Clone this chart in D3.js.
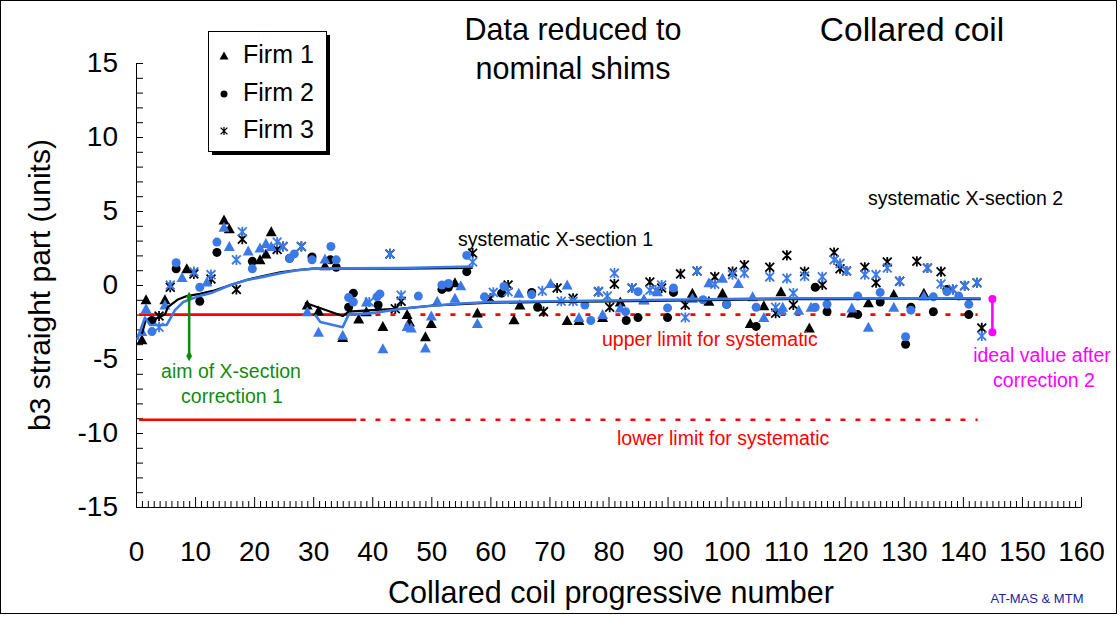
<!DOCTYPE html>
<html>
<head>
<meta charset="utf-8">
<script src="https://cdn.jsdelivr.net/npm/d3@7"></script>
<style>
  body { margin: 0; background: #fff; }
  svg { display: block; font-family: "Liberation Sans", Arial, sans-serif; }
</style>
</head>
<body>
<svg id="chart" width="1120" height="617"></svg>
<script>
// ---- data (coil number, b3 in units) ----
const xTicks = d3.range(0, 161, 10);
const yTicks = [-15, -10, -5, 0, 5, 10, 15];

const f1Black = [[1,-3.7],[1.7,-1.0],[4.9,-1.0],[8.6,1.1],[14.9,4.4],[15.8,3.8],[21,1.7],[22,2.1],[22.9,3.6],
  [29,-1.35],[30.9,-1.75],[32,1.3],[35,-3.55],[37.7,-2.3],[39,-1.8],[41.8,-2.8],[45.9,-2.0],[46.3,-2.5],
  [49,-3.5],[50,-2.6],[54,0.15],[57.8,-1.9],[64,-2.35],[65,-1.35],[73,-2.4],[75,-2.4],[79,-2.2],[82,-1.15],
  [86,-1.0],[94.2,-0.55],[97,-1.1],[99.3,-0.55],[104,-2.6],[106.3,-1.4],[109.2,-0.45],[114,-2.9],
  [121.2,-1.9],[124,-1.2],[128.3,-0.65],[133.4,-0.55]];
const f1Blue = [[1,-3.15],[1.7,-1.6],[4.9,-1.35],[7.8,0.5],[12,0.2],[14.9,3.9],[15.8,2.6],[19,2.3],[21,2.5],
  [22,2.8],[22.9,2.6],[29,-1.8],[30.9,-3.2],[32,1.75],[35,-3.4],[39,-1.15],[41.8,-4.3],[45.9,-2.8],[46.6,-2.9],
  [49,-4.25],[50,-2.1],[51,-1.1],[54,-0.9],[55,-0.05],[57.8,-2.6],[64.8,-0.55],[70.2,0.1],[73,0],[75,-2.2],
  [79,-2.0],[82,-1.55],[86,-1.0],[88.3,-0.45],[94.2,-0.9],[97,0.15],[99.3,0.45],[102,0.1],[104.4,-0.8],
  [106.3,-2.2],[109.3,-1.7],[109.5,-1.5],[112.2,-1.7],[114.3,-1.5],[121.2,-1.55],[124,-2.85],[128.3,-1.5],
  [133.4,-0.75]];

const f2Black = [[2.7,-2.4],[6.8,1.1],[10.8,-1.1],[13.7,2.2],[19.7,1.6],[26,1.8],[29.8,1.9],[32.9,1.7],
  [33.9,1.2],[36,-1.5],[36.8,-0.55],[41,-1.35],[51.8,-0.3],[52.9,-0.15],[56,0.9],[61.9,-0.55],[67,-0.5],
  [68,-1.5],[83,-2.4],[85,-2.2],[90,-2.2],[91,-0.5],[100,-1.3],[105,-2.8],[115,-0.15],[117,-1.8],
  [122.2,-2.0],[126,-1.15],[130.3,-4.0],[131.2,-1.5],[135,-1.8],[137.3,-0.3],[141,-2.0]];
const f2Blue = [[2.7,-3.15],[6.8,1.5],[10.8,-0.15],[13.7,2.9],[19.7,1.1],[26,1.8],[26.8,2.1],[29.8,1.7],
  [33,2.6],[33.9,1.7],[36,-0.85],[36.8,-1.15],[40.8,-0.8],[41.3,-0.6],[47.8,-0.75],[51.8,0],[52.9,0.1],
  [56,2.0],[59,-0.8],[62.3,-0.1],[67,-0.65],[76,-1.35],[77,-2.4],[82.9,-1.8],[85,-0.45],[90,-1.55],
  [91,-0.2],[96,-1.0],[100,-1.3],[105,-1.5],[115,-1.5],[117,-1.3],[122.2,-0.75],[126,-0.5],[130.3,-3.5],
  [131.2,-1.7],[135,-0.8],[137.3,-0.45],[139.3,-0.75],[141,-1.3]];

const f3Black = [[3.9,-2.1],[5.8,-0.15],[9.8,0.75],[12.7,0.4],[17,-0.3],[18,3.1],[23.9,2.4],[24.9,2.6],
  [28,2.6],[43,2.1],[57,2.15],[43.9,-1.6],[44.9,-1.1],[60,-0.9],[63,0],[69,-1.8],[71.3,-0.2],[74,-0.9],
  [78.3,-0.45],[80.2,-1.5],[81,0.07],[84,-0.2],[87,0.2],[89,-0.2],[92.2,0.75],[93,-1.35],[95,0.95],
  [98,0.55],[101,0.9],[103,1.35],[107.3,1.2],[108.3,-1.9],[110.2,2.0],[111.3,-1.35],[113.2,0.9],[116.2,0],
  [118.2,2.2],[119.2,1.1],[120.3,0.95],[123.4,1.2],[125.3,0.15],[127.2,1.55],[129.3,0.25],[132.2,1.6],
  [134,1.15],[136.3,0.9],[138.3,-0.3],[140.3,-0.05],[142.4,0.15],[143.2,-2.9]];
const f3Blue = [[3.9,-2.85],[5.8,0],[9.8,0.9],[12.7,0.7],[17,1.7],[18,3.6],[23.9,2.9],[24.9,2.6],[28,2.6],
  [43,2.1],[57,1.55],[39.5,-1.15],[44.9,-0.7],[60.5,-0.5],[63,-0.45],[68.8,-0.4],[72,-1.1],[74,-1.1],
  [78.3,-0.45],[79.8,-0.75],[81,0.8],[84,-0.2],[87,-0.35],[88,-0.35],[89,0],[93,-2.2],[95,0.95],[98,0.05],
  [101,0.7],[103,0.8],[107.3,0.55],[108.3,-1.5],[110.2,0.45],[111.3,-0.55],[113.2,0.6],[116.2,0.55],
  [118.2,1.7],[119.2,1.45],[120.3,0.95],[123.4,0.7],[125.3,0.7],[127.2,1.15],[129.3,0.25],[134,1.15],
  [136.3,0.07],[138.3,-0.3],[140.3,-0.05],[142.4,0.15],[143.2,-3.45]];

// running systematic values, X-section 1 and X-section 2
const sys1Black = [[1,-3.3],[1.7,-2.3],[2.7,-2.4],[4.9,-2.0],[5.4,-1.5],[7,-1.0],[8.6,-0.75],[10.8,-0.6],
  [13,-0.4],[16,0],[18.8,0.35],[21.5,0.6],[24.4,0.85],[27.3,1.0],[30,1.1],[36,1.1],[45,1.1],[57,1.15]];
const sys1Blue = [[0.2,-3.7],[1.5,-2.2],[2.4,-2.7],[5.2,-2.7],[6.6,-1.7],[8,-1.15],[10.3,-0.8],[13,-0.5],
  [16,0],[18.8,0.34],[21.5,0.55],[24.4,0.8],[27.3,1.0],[30,1.1],[36,1.12],[45,1.15],[57,1.25]];
const sys2Black = [[28.6,-1.2],[35,-2.1],[36,-1.8],[40,-1.7],[45,-1.6],[50,-1.4],[55,-1.3],[60,-1.2],
  [70,-1.15],[80,-1.1],[90,-1.05],[100,-1.0],[110,-0.95],[120,-0.95],[130,-0.9],[143,-0.95]];
const sys2Blue = [[30.3,-2.0],[31.2,-2.5],[35,-2.85],[36,-2.0],[40,-1.9],[45,-1.6],[50,-1.4],[55,-1.25],
  [60,-1.15],[70,-1.1],[80,-1.05],[90,-1.0],[100,-0.95],[110,-0.9],[120,-0.9],[130,-0.9],[143,-0.9]];

// limits: [xStart, xEnd, value]
const limitSolid = [[0.5, 37.3, -2], [0.5, 37.3, -9.1]];
const limitDashed = [[38, 142.5, -2], [38, 142.5, -9.1]];
const aim1 = [9, -0.8, -4.8];     // x, top, bottom
const ideal2 = [145, -0.95, -3.2];

// ---- drawing ----
const svg = d3.select("#chart");
const blue = "#3b7ae6";
const x = d3.scaleLinear().domain([0, 160]).range([136, 1081]);
const y = d3.scaleLinear().domain([-15, 15]).range([507, 63]);

svg.append("rect").attr("x", 0.5).attr("y", 0.5).attr("width", 1116).attr("height", 613)
  .attr("fill", "#fff").attr("stroke", "#000");

// y axis, ticks inside
svg.append("g").attr("transform", "translate(136,0)")
  .call(d3.axisRight(y).tickValues(d3.range(-15, 16)).tickSize(7).tickSizeOuter(0).tickFormat(""));
svg.append("g").attr("transform", "translate(136,0)")
  .call(d3.axisLeft(y).tickValues(yTicks).tickSize(0).tickPadding(18).tickFormat(d => String(d)))
  .call(g => g.select(".domain").remove())
  .selectAll("text").attr("font-size", 28).attr("font-family", null);

// x axis, minor + major ticks pointing up
svg.append("g").attr("transform", "translate(0,507)")
  .call(d3.axisTop(x).tickValues(d3.range(0, 161).filter(d => d % 10)).tickSize(6).tickSizeOuter(0).tickFormat(""));
svg.append("g").attr("transform", "translate(0,507)")
  .call(d3.axisTop(x).tickValues(xTicks).tickSize(10).tickSizeOuter(0).tickFormat(""))
  .call(g => g.select(".domain").remove());
svg.append("g").attr("transform", "translate(0,507)")
  .call(d3.axisBottom(x).tickValues(xTicks).tickSize(0).tickPadding(34).tickFormat(d => String(d)))
  .call(g => g.select(".domain").remove())
  .selectAll("text").attr("font-size", 28).attr("font-family", null);

svg.selectAll(".tick line").attr("stroke", "#000");

// axis titles
svg.append("text").attr("transform", "translate(50,285) rotate(-90)")
  .attr("text-anchor", "middle").attr("font-size", 30).text("b3 straight part (units)");
svg.append("text").attr("x", 611).attr("y", 603)
  .attr("text-anchor", "middle").attr("font-size", 30.5).text("Collared coil progressive number");

// limit lines
const gLim = svg.append("g").attr("stroke", "#ff0000").attr("stroke-width", 2.6);
gLim.selectAll("line.solid").data(limitSolid).join("line").attr("class", "solid")
  .attr("x1", d => x(d[0])).attr("x2", d => x(d[1])).attr("y1", d => y(d[2])).attr("y2", d => y(d[2]));
gLim.selectAll("line.dash").data(limitDashed).join("line").attr("class", "dash")
  .attr("stroke-dasharray", "5,10")
  .attr("x1", d => x(d[0])).attr("x2", d => x(d[1])).attr("y1", d => y(d[2])).attr("y2", d => y(d[2]));

// markers
const tri = "M0,-5.5L5.5,4.5L-5.5,4.5Z";
const star = r => `M${-r},${-r}L${r},${r}M${-r},${r}L${r},${-r}M0,${-r * 1.15}L0,${r * 1.15}`;

function drawSeries(data, shape, color) {
  const g = svg.append("g");
  const sel = g.selectAll("path").data(data).join("path")
    .attr("transform", d => `translate(${x(d[0])},${y(d[1])})`);
  if (shape === "tri") sel.attr("d", tri).attr("fill", color);
  else if (shape === "circle") sel.attr("d", d3.symbol(d3.symbolCircle, Math.PI * 4.5 * 4.5)()).attr("fill", color);
  else sel.attr("d", star(4.4)).attr("fill", "none").attr("stroke", color).attr("stroke-width", 1.8);
}

drawSeries(f1Black, "tri", "#000");
drawSeries(f2Black, "circle", "#000");
drawSeries(f3Black, "star", "#000");
drawSeries(f1Blue, "tri", blue);
drawSeries(f2Blue, "circle", blue);
drawSeries(f3Blue, "star", blue);

// systematic lines
const line = d3.line().x(d => x(d[0])).y(d => y(d[1]));
[[sys1Black, "#000", 2.2], [sys2Black, "#000", 2.2], [sys1Blue, blue, 2.6], [sys2Blue, blue, 2.6]]
  .forEach(([d, c, w]) => svg.append("path").attr("d", line(d)).attr("fill", "none")
    .attr("stroke", c).attr("stroke-width", w).attr("stroke-linejoin", "round"));

// aim of X-section correction 1
const green = "#128a12";
svg.append("line").attr("x1", x(aim1[0])).attr("x2", x(aim1[0]))
  .attr("y1", y(aim1[1])).attr("y2", y(aim1[2])).attr("stroke", green).attr("stroke-width", 2.6);
svg.selectAll("path.dia").data([aim1[1], aim1[2]]).join("path").attr("class", "dia")
  .attr("d", d3.symbol(d3.symbolDiamond, 30)())
  .attr("transform", d => `translate(${x(aim1[0])},${y(d)})`).attr("fill", green);

// ideal value after correction 2
const magenta = "#ff00ff";
svg.append("line").attr("x1", x(ideal2[0])).attr("x2", x(ideal2[0]))
  .attr("y1", y(ideal2[1])).attr("y2", y(ideal2[2])).attr("stroke", magenta).attr("stroke-width", 2.6);
svg.selectAll("circle.mag").data([ideal2[1], ideal2[2]]).join("circle").attr("class", "mag")
  .attr("cx", x(ideal2[0])).attr("cy", d => y(d)).attr("r", 4).attr("fill", magenta);

// annotations
const notes = [
  ["Data reduced to", 573, 40, 30.5, "#000", "middle"],
  ["nominal shims", 573, 79, 30.5, "#000", "middle"],
  ["Collared coil", 912, 41, 33.5, "#000", "middle"],
  ["systematic X-section 1", 458, 246, 19.5, "#000", "start"],
  ["systematic X-section 2", 868, 205, 19.5, "#000", "start"],
  ["upper limit for systematic", 602, 346, 19.5, "#ff0000", "start"],
  ["lower limit for systematic", 617, 445, 19.5, "#ff0000", "start"],
  ["aim of X-section", 231, 378, 19.5, green, "middle"],
  ["correction 1", 232, 403, 19.5, green, "middle"],
  ["ideal value after", 1042, 362, 19.5, magenta, "middle"],
  ["correction 2", 1044, 387, 19.5, magenta, "middle"],
  ["AT-MAS & MTM", 1037, 603, 13, "#22229a", "middle"]
];
svg.append("g").selectAll("text").data(notes).join("text")
  .attr("x", d => d[1]).attr("y", d => d[2]).attr("font-size", d => d[3])
  .attr("fill", d => d[4]).attr("text-anchor", d => d[5]).text(d => d[0]);

// legend
const lg = svg.append("g");
lg.append("rect").attr("x", 212).attr("y", 35).attr("width", 118).attr("height", 120).attr("fill", "#000");
lg.append("rect").attr("x", 208.5).attr("y", 31.5).attr("width", 118).attr("height", 120)
  .attr("fill", "#fff").attr("stroke", "#000");
const legendItems = [["Firm 1", "tri", 56], ["Firm 2", "circle", 94], ["Firm 3", "star", 131]];
legendItems.forEach(([label, shape, cy]) => {
  const p = lg.append("path").attr("transform", `translate(224,${cy})`);
  if (shape === "tri") p.attr("d", "M0,-4.5L4.5,3.5L-4.5,3.5Z");
  else if (shape === "circle") p.attr("d", d3.symbol(d3.symbolCircle, Math.PI * 3.5 * 3.5)());
  else p.attr("d", star(3.4)).attr("fill", "none").attr("stroke", "#000").attr("stroke-width", 1.3);
  lg.append("text").attr("x", 243).attr("y", cy + 7).attr("font-size", 25).text(label);
});
</script>
</body>
</html>
